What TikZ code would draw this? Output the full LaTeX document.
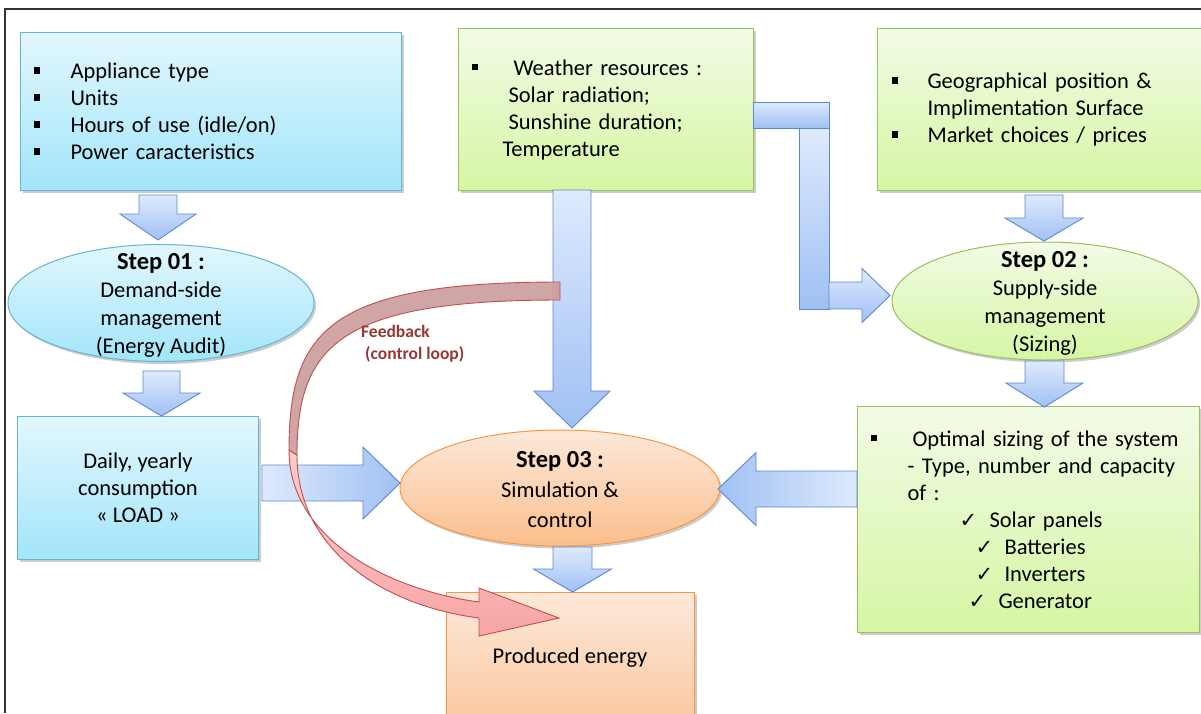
\documentclass[tikz,border=0pt]{standalone}
\usepackage{fontspec}
\setmainfont{Carlito}
\newfontfamily\dejavu{DejaVu Sans}
\usetikzlibrary{shapes.geometric,shadows}

\definecolor{bluetop}{RGB}{226,247,253}
\definecolor{bluebot}{RGB}{162,229,250}
\definecolor{blueline}{RGB}{100,180,210}
\definecolor{greentop}{RGB}{242,251,230}
\definecolor{greenbot}{RGB}{214,246,163}
\definecolor{greenline}{RGB}{155,190,95}
\definecolor{orangetop}{RGB}{253,233,218}
\definecolor{orangebot}{RGB}{251,190,140}
\definecolor{orangeline}{RGB}{247,150,70}
\definecolor{arrlight}{RGB}{222,234,253}
\definecolor{arrdark}{RGB}{160,192,244}
\definecolor{arrline}{RGB}{90,135,205}
\definecolor{fbdark}{RGB}{204,160,160}
\definecolor{fblight}{RGB}{248,165,165}
\definecolor{fbline}{RGB}{192,80,77}
\definecolor{fbtext}{RGB}{149,55,53}
\definecolor{framecol}{RGB}{50,50,50}

% style, cx, ytop, ybase, ytip, shaft half width, head half width
\newcommand{\VArrow}[7]{%
  \path[#1] ({#2-#6},#3) -- ({#2+#6},#3) -- ({#2+#6},#4) -- ({#2+#7},#4) -- (#2,#5)
    -- ({#2-#7},#4) -- ({#2-#6},#4) -- cycle;}
% style, cy, xtail, xbase, xtip, shaft half width, head half width
\newcommand{\HArrow}[7]{%
  \path[#1] (#3,{#2-#6}) -- (#4,{#2-#6}) -- (#4,{#2-#7}) -- (#5,#2) -- (#4,{#2+#7})
    -- (#4,{#2+#6}) -- (#3,{#2+#6}) -- cycle;}

\newcommand{\sqb}{\raisebox{5pt}{\rule{6.5pt}{6.5pt}}}
\newcommand{\ck}{{\dejavu\fontsize{21}{20}\selectfont ✓}}

\tikzset{
  shad/.style={drop shadow={shadow xshift=2pt, shadow yshift=-2.5pt, opacity=0.2, fill=black}},
  bluebox/.style={shad, draw=blueline, line width=1, top color=bluetop, bottom color=bluebot, rectangle},
  greenbox/.style={shad, draw=greenline, line width=1, top color=greentop, bottom color=greenbot, rectangle},
  orangebox/.style={shad, draw=orangeline, line width=1, top color=orangetop, bottom color=orangebot, rectangle},
  varr/.style={draw=arrline, line width=0.9, top color=arrlight, bottom color=arrdark},
  harr/.style={draw=arrline, line width=0.9, left color=arrlight, right color=arrdark},
  harrl/.style={draw=arrline, line width=0.9, left color=arrdark, right color=arrlight},
  txt/.style={font=\fontsize{22.5}{27}\selectfont},
  steptxt/.style={font=\fontsize{22.5}{28}\selectfont, align=center, inner sep=0},
}

\begin{document}
\begin{tikzpicture}[x=1pt,y=-1pt]
\useasboundingbox (0,0) rectangle (1201,713);
\clip (0,0) rectangle (1201,713);

% ---------- boxes ----------
\node[bluebox, txt, anchor=north west, minimum width=381, minimum height=158,
      inner xsep=13, text width=355, align=left] (A) at (20,32)
  {\makebox[37pt][l]{\sqb}Appliance type\\
   \makebox[37pt][l]{\sqb}Units\\
   \makebox[37pt][l]{\sqb}Hours of use (idle/on)\\
   \makebox[37pt][l]{\sqb}Power caracteristics};

\node[greenbox, txt, anchor=north west, minimum width=295, minimum height=162,
      inner xsep=13, text width=269, align=left] (W) at (458,28)
  {\makebox[42pt][l]{\sqb}Weather resources :\\
   \hspace*{37pt}Solar radiation;\\
   \hspace*{37pt}Sunshine duration;\\
   \hspace*{31pt}Temperature};

\node[greenbox, txt, anchor=north west, minimum width=340, minimum height=162,
      inner xsep=14, text width=312, align=left] (G) at (877,28)
  {\makebox[36pt][l]{\sqb}Geographical position \&\\
   \hspace*{36pt}Implimentation Surface\\
   \makebox[36pt][l]{\sqb}Market choices / prices};

\node[bluebox, txt, anchor=north west, minimum width=241, minimum height=143,
      align=center] (B) at (17,416)
  {Daily, yearly\\consumption\\« LOAD »};

\node[greenbox, txt, anchor=north west, minimum width=342, minimum height=226,
      inner xsep=13, text width=316, align=left] (O) at (857,406)
  {\makebox[42pt][l]{\sqb}Optimal sizing of the system\\
   \hspace*{37pt}- Type, number and capacity\\
   \hspace*{37pt}of :\\
   \hspace*{89pt}\makebox[30pt][l]{\ck}Solar panels\\
   \hspace*{105pt}\makebox[29pt][l]{\ck}Batteries\\
   \hspace*{105pt}\makebox[29pt][l]{\ck}Inverters\\
   \hspace*{98pt}\makebox[30pt][l]{\ck}Generator};

\node[orangebox, anchor=north west, minimum width=248, minimum height=170] (P) at (446,592) {};
\node[txt, inner sep=0] (Pt) at (570,658) {Produced energy};

% ---------- ellipses ----------
\node[shad, ellipse, draw=blueline, line width=1, top color=bluetop, bottom color=bluebot,
      minimum width=306, minimum height=117] (S1) at (161,303) {};
\node[steptxt] (S1t) at (161,305)
  {{\fontsize{24.5}{28}\selectfont\bfseries Step 01 :}\\Demand-side\\management\\(Energy Audit)};

\node[shad, ellipse, draw=greenline, line width=1, top color=greentop, bottom color=greenbot,
      minimum width=306, minimum height=118] (S2) at (1045,301) {};
\node[steptxt] (S2t) at (1045,303)
  {{\fontsize{24.5}{28}\selectfont\bfseries Step 02 :}\\Supply-side\\management\\(Sizing)};

\node[shad, ellipse, draw=orangeline, line width=1, top color=orangetop, bottom color=orangebot,
      minimum width=320, minimum height=116] (S3) at (560,488) {};
\node[steptxt, font=\fontsize{22.5}{30}\selectfont] (S3t) at (560,490)
  {{\fontsize{24.5}{30}\selectfont\bfseries Step 03 :}\\Simulation \&\\control};

% ---------- block arrows ----------
\VArrow{varr}{158}{195}{214}{240}{19}{38}
\VArrow{varr}{161.5}{371}{393}{416}{18.5}{38.5}
\VArrow{varr}{1044}{195}{218}{241}{19}{39}
\VArrow{varr}{1044.5}{361}{383}{407}{19.5}{38.5}
\VArrow{varr}{572}{190}{391}{428}{19}{38}
\VArrow{varr}{572.5}{547}{569}{592}{19.5}{39}
\HArrow{harr}{483}{262}{363}{400}{18}{36}
\HArrow{harrl}{489}{857}{756}{718}{18}{36.5}

% L-shaped arrow from weather box to step 02
\path[varr] (753,102) rectangle (829,128);
\path[varr] (799,128) rectangle (829,309);
\HArrow{varr}{295.5}{829}{862}{890}{13.5}{27}

% ---------- feedback arrow ----------
\path[draw=fbline, line width=0.9, top color=fblight!55!white, bottom color=fblight]
  (289,450) .. controls (289,540) and (390,590) .. (479,602)
  -- (479,588) -- (559,618) -- (479,636) -- (479,618)
  .. controls (380,605) and (297,548) .. (297,455) -- cycle;
\path[draw=fbline, line width=0.9, fill=fbdark, fill opacity=0.95]
  (560,282) .. controls (330,282) and (289,330) .. (289,450)
  -- (297,455) .. controls (297,345) and (340,300) .. (560,300) -- cycle;

\node[anchor=west, align=left, text=fbtext, inner sep=0,
      font=\fontsize{17.5}{22}\selectfont\bfseries] (FB) at (361,344)
  {Feedback\\\hspace*{4pt}(control loop)};

% ---------- frame ----------
\draw[framecol, line width=1.5] (5,713) -- (5,9) -- (1201,9);
\end{tikzpicture}
\end{document}
